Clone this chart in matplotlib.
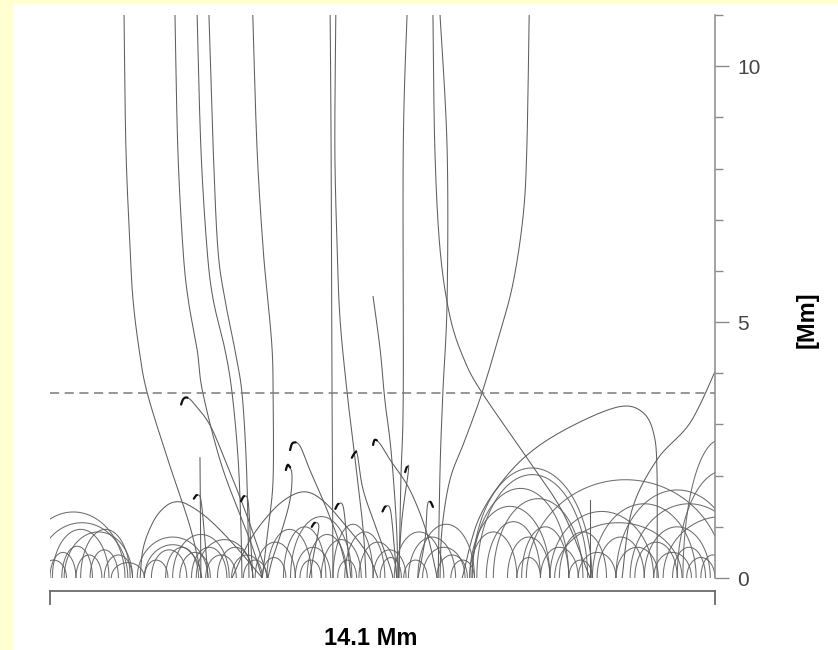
import numpy as np
import matplotlib
matplotlib.use("Agg")
from matplotlib import pyplot as plt
from matplotlib.patches import Rectangle

plt.rcParams['font.family'] = ['Liberation Sans', 'DejaVu Sans']

# box size [Mm]
x_size = 14.1
y_top = 11.0
cut_height = 3.62  # dashed level

# open field lines (x, y in Mm)
open_lines = [
    [(1.57, 11.0), (1.61, 8.38), (1.70, 6.42), (1.76, 5.44), (1.89, 4.46), (2.06, 3.62), (2.50, 2.31), (2.97, 1.0), (3.22, 0)],
    [(2.65, 11.0), (2.71, 8.38), (2.82, 6.42), (2.93, 5.44), (3.12, 4.46), (3.24, 3.62), (3.65, 2.17), (4.24, 0.74), (4.50, 0)],
    [(3.12, 11.0), (3.20, 8.38), (3.33, 6.42), (3.46, 5.44), (3.71, 4.46), (3.86, 3.62), (3.99, 2.31), (4.05, 0.94), (4.07, 0)],
    [(3.37, 11.0), (3.46, 8.38), (3.56, 6.42), (3.71, 5.44), (3.92, 4.46), (4.07, 3.62), (4.16, 2.31), (4.20, 0.94), (4.22, 0)],
    [(4.30, 11.0), (4.39, 8.38), (4.52, 6.42), (4.62, 5.44), (4.71, 4.46), (4.73, 3.62), (4.73, 1.92), (4.62, 0.94), (4.50, 0)],
    [(5.94, 11.0), (5.96, 8.38), (5.98, 3.62), (6.00, 0)],
    [(6.06, 11.0), (6.04, 8.38), (6.09, 6.42), (6.15, 5.05), (6.30, 3.62), (6.47, 2.31), (6.64, 0.94), (6.70, 0)],
    [(6.85, 5.50), (7.00, 4.46), (7.10, 3.48), (7.23, 2.50), (7.34, 1.13), (7.38, 0)],
    [(7.57, 11.0), (7.49, 8.38), (7.49, 3.62), (7.44, 1.92), (7.40, 0)],
    [(8.12, 11.0), (8.16, 8.38), (8.27, 6.42), (8.48, 5.11), (8.78, 4.27), (9.16, 3.62), (10.14, 2.31), (10.88, 1.27), (11.45, 0)],
    [(8.27, 11.0), (8.42, 8.38), (8.42, 5.44), (8.33, 3.62), (8.27, 2.11), (8.23, 0)],
    [(10.16, 11.0), (10.11, 8.38), (10.03, 7.06), (9.82, 5.77), (9.54, 4.79), (9.16, 3.62), (8.80, 2.70), (8.48, 1.92), (8.31, 0.94), (8.27, 0)],
    [(14.1, 4.03), (13.57, 3.03), (12.87, 2.31), (12.34, 1.33), (12.13, 0)],
    [(3.18, 2.35), (3.20, 0)],
    [(11.45, 1.53), (11.45, 0)],
]

# lopsided loops
skew_loops = [
    [(1.91, 0), (1.98, 0.6), (2.2, 1.12), (2.45, 1.4), (2.69, 1.49), (2.95, 1.42), (3.39, 1.13), (3.95, 0.6), (4.5, 0)],
    [(3.86, 0), (4.24, 0.74), (4.7, 1.3), (5.1, 1.6), (5.45, 1.68), (5.8, 1.5), (6.2, 1.1), (6.72, 0.49), (6.95, 0)],
    [(8.74, 0), (9.08, 1.13), (9.65, 1.96), (10.33, 2.56), (11.24, 3.05), (12.09, 3.35), (12.55, 3.25), (12.79, 2.86), (12.87, 2.11), (12.87, 0)],
]

# hooked lines, tip first
hooks = [
    [(2.78, 3.39), (2.83, 3.50), (2.92, 3.52), (3.07, 3.39), (3.39, 2.99), (3.71, 2.31), (4.13, 1.33), (4.50, 0.35), (4.62, 0)],
    [(5.09, 2.50), (5.15, 2.64), (5.30, 2.58), (5.51, 2.11), (5.83, 1.43), (6.15, 0.65), (6.32, 0)],
    [(5.00, 2.11), (5.05, 2.21), (5.13, 2.02), (5.09, 1.53), (4.92, 0.94), (4.71, 0.35), (4.62, 0)],
    [(6.40, 2.35), (6.47, 2.45), (6.52, 2.40), (6.64, 1.72), (6.93, 0.94), (7.21, 0.22), (7.27, 0)],
    [(6.85, 2.60), (6.89, 2.70), (7.00, 2.62), (7.21, 2.31), (7.63, 1.72), (7.99, 0.88), (8.21, 0)],
    [(7.53, 2.07), (7.57, 2.17), (7.60, 2.10), (7.46, 1.13), (7.38, 0)],
    [(8.12, 1.39), (8.06, 1.49), (8.00, 1.40), (7.95, 0.74), (7.80, 0)],
    [(5.55, 1.00), (5.62, 1.08), (5.70, 1.00), (5.60, 0.50), (5.50, 0)],
    [(4.05, 1.50), (4.12, 1.60), (4.20, 1.50), (4.25, 0.80), (4.30, 0)],
    [(3.05, 1.55), (3.12, 1.62), (3.20, 1.52), (3.28, 0.8), (3.35, 0)],
    [(6.05, 1.35), (6.12, 1.45), (6.22, 1.38), (6.30, 0.7), (6.38, 0)],
    [(7.05, 1.30), (7.12, 1.40), (7.22, 1.32), (7.30, 0.6), (7.35, 0)],
]

# closed loops: left foot, right foot, height [Mm]
loop_a = [-0.6, -0.3, 0.05, 0.3, 0.65, 0.0, 0.25, 0.55, 0.85, 1.15, -0.2, 1.3,
          2.0, 2.15, 2.45, 1.85, 2.0, 2.75, 3.0, 3.3, 3.55, 3.85, 2.6, 3.1, 4.1,
          4.35, 4.6, 4.95, 5.2, 5.45, 5.75, 6.0, 6.25, 6.55, 6.85, 4.5, 5.3, 6.1, 7.0, 5.1,
          7.3, 7.6, 7.9, 8.2, 7.5, 8.5, 7.8,
          8.95, 9.05, 10.1, 12.0, 10.7, 8.9, 9.25, 9.7, 10.0, 10.4, 10.8, 11.2, 11.6,
          12.0, 12.4, 12.8, 13.2, 13.5, 8.9, 9.4, 10.6, 11.5, 12.3, 12.6, 13.0,
          13.42, 13.3, 9.9, 11.0, 13.8, 8.95]
loop_b = [1.59, 1.65, 1.25, 1.75, 1.7, 0.55, 0.9, 1.1, 1.45, 1.75, 0.35, 2.0,
          2.5, 2.9, 3.15, 3.35, 3.2, 3.4, 3.75, 3.95, 4.3, 4.5, 3.8, 4.3, 4.6,
          5.2, 5.55, 5.85, 5.95, 6.3, 6.6, 6.85, 7.1, 7.35, 7.55, 5.0, 5.75, 6.5, 7.45, 6.4,
          8.35, 8.6, 8.8, 8.85, 8.0, 9.0, 9.0,
          11.49, 11.4, 14.3, 14.6, 13.4, 9.9, 10.4, 10.6, 11.0, 11.2, 11.8, 12.0, 12.6,
          12.9, 13.3, 13.6, 13.9, 14.1, 10.6, 11.3, 12.8, 13.7, 14.8, 14.0, 15.5,
          15.0, 15.3, 10.4, 11.5, 14.3, 11.0]
loop_h = [1.29, 1.08, 0.95, 0.9, 0.95, 0.5, 0.62, 0.45, 0.55, 0.45, 0.35, 0.3,
          0.35, 0.55, 0.6, 0.8, 0.65, 0.5, 0.6, 0.45, 0.6, 0.45, 0.85, 0.75, 0.35,
          0.7, 0.95, 1.0, 0.6, 0.85, 0.75, 1.05, 0.9, 0.7, 0.55, 0.4, 0.35, 0.35, 0.4, 1.2,
          0.9, 0.8, 0.6, 0.45, 0.35, 0.35, 1.05,
          2.15, 2.02, 1.92, 1.72, 1.08, 0.9, 1.1, 0.8, 1.0, 0.6, 0.9, 0.5, 0.8,
          0.6, 0.7, 0.5, 0.6, 0.4, 1.4, 1.55, 1.3, 1.45, 1.45, 1.0, 1.2,
          2.7, 2.1, 0.4, 0.35, 0.45, 1.75]


def smooth(pts, n=24):
    # catmull-rom through the read points
    p = np.asarray(pts, float)
    if len(p) < 3:
        return p
    p = np.vstack([p[0], p, p[-1]])
    t = np.linspace(0, 1, n, endpoint=False)[:, None]
    out = []
    for i in range(1, len(p) - 2):
        p0, p1, p2, p3 = p[i - 1], p[i], p[i + 1], p[i + 2]
        out.append(0.5 * (2 * p1 + (-p0 + p2) * t + (2 * p0 - 5 * p1 + 4 * p2 - p3) * t ** 2
                          + (-p0 + 3 * p1 - 3 * p2 + p3) * t ** 3))
    out.append(p[-2][None])
    return np.vstack(out)


fig = plt.figure(figsize=(8.38, 6.5), dpi=100)
fig.patch.set_facecolor('white')
# yellowish page edge
fig.patches.append(Rectangle((0, 0), 12 / 838, 1, transform=fig.transFigure, color='#FFFFD0', zorder=0))
fig.patches.append(Rectangle((0, 1 - 3 / 650), 1, 3 / 650, transform=fig.transFigure, color='#FFFFD0', zorder=0))

ax = fig.add_axes([50 / 838, 1 - 578 / 650, 665 / 838, 563 / 650])
ax.set_xlim(0, x_size)
ax.set_ylim(0, y_top)

lc = '#5e5e5e'
lw = 0.75
for pts in open_lines:
    s = smooth(pts)
    ax.plot(s[:, 0], s[:, 1], color=lc, lw=lw)

for pts in skew_loops:
    s = smooth(pts)
    ax.plot(s[:, 0], s[:, 1], color=lc, lw=lw)

tt = np.linspace(0, np.pi, 90)
for a, b, h in zip(loop_a, loop_b, loop_h):
    xs = (a + b) / 2 - (b - a) / 2 * np.cos(tt)
    ys = h * np.sin(tt)
    ax.plot(xs, ys, color=lc, lw=lw, alpha=0.9)

for pts in hooks:
    s = smooth(pts)
    ax.plot(s[:, 0], s[:, 1], color=lc, lw=lw)
    k = len(s) // 4
    ax.plot(s[:k, 0], s[:k, 1], color='#111111', lw=1.6, solid_capstyle='round')

ax.axhline(cut_height, color='#7a7a7a', lw=1.1, dashes=(6, 3.6))

# right axis only
for sp in ['left', 'top', 'bottom']:
    ax.spines[sp].set_visible(False)
ax.spines['right'].set_color('#8a8a8a')
ax.spines['right'].set_linewidth(1.1)
ax.set_xticks([])
ax.yaxis.tick_right()
ax.set_yticks([0, 5, 10])
ax.set_yticks(np.arange(0, 12, 1), minor=True)
ax.tick_params(axis='y', which='major', length=10, width=1.0, color='#8a8a8a',
               labelsize=15, labelcolor='#444444', pad=6)
ax.tick_params(axis='y', which='minor', length=5.5, width=1.0, color='#8a8a8a')

# scale bar
bar_y = -13 / 51.1
tick_y = -26 / 51.1
ax.plot([0, x_size], [bar_y, bar_y], color='#6a6a6a', lw=1.3, clip_on=False)
ax.plot([0, 0], [bar_y, tick_y], color='#6a6a6a', lw=1.3, clip_on=False)
ax.plot([x_size, x_size], [bar_y, tick_y], color='#6a6a6a', lw=1.3, clip_on=False)
ax.text(6.8, -60 / 51.1, '14.1 Mm', ha='center', va='center', fontsize=17, fontweight='bold')

fig.text(807 / 838, 1 - 320 / 650, '[Mm]', rotation=90, ha='center', va='center',
         fontsize=17, fontweight='bold')

plt.savefig('out.png', dpi=100)
